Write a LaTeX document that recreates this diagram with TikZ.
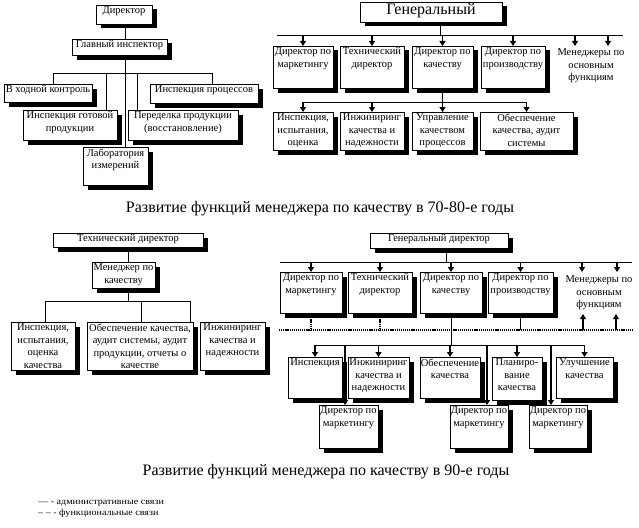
\documentclass[tikz,border=0pt]{standalone}
\usepackage{fontspec}
\setmainfont{Liberation Serif}
\newfontfamily\legfont[FakeStretch=1.12]{Liberation Serif}
\usetikzlibrary{arrows.meta,calc}
\newcommand\bx[7][]{%
  \fill[shadowfill] ({#3+4.5},{#4+4.5}) rectangle ({#5+4.5},{#6+4.5});
  \node[box, minimum width={(#5-#3)*1pt}, minimum height={(#6-#4)*1pt}] (#2) at (#3,#4) {};
  \node[txt,#1] (#2t) at (#2.north) {#7};}
\begin{document}
\begin{tikzpicture}[x=1pt,y=-1pt,
  shadowfill/.style={fill=black},
  box/.style={draw, fill=white, line width=0.8pt, anchor=north west, inner sep=0pt, outer sep=0pt},
  txt/.style={anchor=north, align=center, inner sep=1.5pt, font=\fontsize{10.5}{12.5}\selectfont},
  ln/.style={line width=0.8pt},
  arr/.style={line width=1.4pt, -{Triangle[width=6pt,length=5pt]}},
  func/.style={line width=1.6pt, dash pattern=on 1.2pt off 0.9pt},
  captext/.style={font=\fontsize{16}{18}\selectfont, inner sep=0pt},
  leg/.style={font=\legfont\fontsize{9}{10}\selectfont, inner sep=0pt, anchor=west},
]
\useasboundingbox (0,0) rectangle (639,527);
\fill[white] (0,0) rectangle (639,527);

% ---------------- top left ----------------
\bx{dir}{96}{5}{152}{24}{Директор}
\bx{gi}{72}{39}{167}{55}{Главный инспектор}
\bx{vk}{4}{84}{92}{102}{В ходной контроль}
\bx{ip}{150}{84}{258}{103}{Инспекция процессов}
\bx{igp}{23}{110}{117}{140}{Инспекция готовой\\продукции}
\bx{pp}{128}{110}{238}{140}{Переделка продукции\\(восстановление)}
\bx{li}{83}{147}{148}{185}{Лаборатория\\измерений}
\coordinate (b1c) at (125,73);
\coordinate (b1L) at (53,73);
\coordinate (b1R) at (212,73);
\coordinate (b1a) at (106,73);
\coordinate (b1b) at (137,73);
\draw[ln] (b1c |- dir.south) -- (b1c |- gi.north);
\draw[ln] (b1c |- gi.south) -- (b1c |- li.north);
\draw[ln] (b1L) -- (b1R);
\draw[ln] (b1L) -- (b1L |- vk.north);
\draw[ln] (b1R) -- (b1R |- ip.north);
\draw[ln] (b1a) -- (b1a |- igp.north);
\draw[ln] (b1b) -- (b1b |- pp.north);

% ---------------- top right ----------------
\bx[font=\fontsize{16}{18}\selectfont, inner sep=1pt]{gen}{360}{2}{502}{22}{Генеральный}
\bx{dm1}{273}{46}{333}{88}{Директор по\\маркетингу}
\bx{td1}{340}{46}{404}{88}{Технический\\директор}
\bx{dk1}{412}{46}{473}{88}{Директор по\\качеству}
\bx{dp1}{481}{46}{545}{88}{Директор по\\производству}
\node[txt] (mg1) at (591,47) {Менеджеры по\\основным\\функциям};
\coordinate (B1) at (277,35);
\coordinate (B1e) at (623,35);
\coordinate (g1) at (440,35);
\draw[ln] (B1) -- (B1e);
\draw[ln] (g1 |- gen.south) -- (g1);
\foreach \n in {dm1,td1,dk1,dp1} \draw[arr] (B1 -| \n.north) -- (\n.north);
\coordinate (m1a) at (575,46);
\coordinate (m1b) at (608,46);
\draw[arr] (B1 -| m1a) -- (m1a);
\draw[arr] (B1 -| m1b) -- (m1b);

\bx{iio}{273}{112}{333}{150}{Инспекция,\\испытания,\\оценка}
\bx{ikn}{340}{112}{404}{150}{Инжиниринг\\качества и\\надежности}
\bx{ukp}{412}{112}{473}{150}{Управление\\качеством\\процессов}
\bx{oka}{480}{112}{573}{150}{Обеспечение\\качества, аудит\\системы}
\coordinate (B2) at (302,102);
\draw[ln] (dk1.south) -- (dk1.south |- B2);
\draw[ln] (B2 -| iio.north) -- (B2 -| oka.north);
\foreach \n in {iio,ikn,ukp,oka} \draw[arr] (B2 -| \n.north) -- (\n.north);

\node[captext] (cap1) at (320,209) {Развитие функций менеджера по качеству в 70-80-е годы};

% ---------------- bottom left ----------------
\bx{td2}{53}{233}{203}{247}{Технический директор}
\bx{mk}{92}{262}{155}{288}{Менеджер по\\качеству}
\bx{ii2}{11}{322}{75}{370}{Инспекция,\\испытания,\\оценка\\качества}
\bx{ob2}{87}{322}{193}{370}{Обеспечение качества,\\аудит системы, аудит\\продукции, отчеты о\\качестве}
\bx{in2}{200}{322}{265}{370}{Инжиниринг\\качества и\\надежности}
\coordinate (b3c) at (128,301);
\coordinate (b3L) at (45,301);
\coordinate (b3R) at (190,301);
\coordinate (b3m) at (141,301);
\draw[ln] (b3c |- td2.south) -- (b3c |- mk.north);
\draw[ln] (b3c |- mk.south) -- (b3c);
\draw[ln] (b3L) -- (b3R);
\draw[ln] (b3L) -- (b3L |- ii2.north);
\draw[ln] (b3m) -- (b3m |- ob2.north);
\draw[ln] (b3R) -- (b3R |- ob2.north);

% ---------------- bottom right ----------------
\bx{gd}{370}{233}{508}{248}{Генеральный директор}
\bx{dm2}{280}{272}{342}{313}{Директор по\\маркетингу}
\bx{td3}{348}{272}{412}{313}{Технический\\директор}
\bx{dk2}{420}{272}{482}{313}{Директор по\\качеству}
\bx{dp2}{488}{272}{553}{313}{Директор по\\производству}
\node[txt] (mg2) at (599,274) {Менеджеры по\\основным\\функциям};
\coordinate (B4) at (280,262);
\coordinate (B4e) at (632,262);
\coordinate (g2) at (446,262);
\draw[ln] (B4) -- (B4e);
\draw[ln] (g2 |- gd.south) -- (g2);
\foreach \n in {dm2,td3,dk2,dp2} \draw[arr] (B4 -| \n.north) -- (\n.north);
\coordinate (m2a) at (582,272);
\coordinate (m2b) at (617,272);
\draw[arr] (B4 -| m2a) -- (m2a);
\draw[arr] (B4 -| m2b) -- (m2b);

% functional bus
\coordinate (F1) at (279,330);
\coordinate (F2) at (632,330);
\draw[func] (F1) -- (F2);
\draw[func] (dm2.south) -- (dm2.south |- F1);
\draw[func] (td3.south) -- (td3.south |- F1);
\draw[line width=1.4pt] (dp2.south) -- (dp2.south |- F1);
\coordinate (u2a) at (583,314);
\coordinate (u2b) at (616,314);
\draw[arr] (F1 -| u2a) -- (u2a);
\draw[arr] (F1 -| u2b) -- (u2b);

% lower level
\bx{ins}{288}{357}{342}{398}{Инспекция}
\bx{in3}{348}{357}{409}{398}{Инжиниринг\\качества и\\надежности}
\bx{ob3}{420}{357}{480}{398}{Обеспечение\\качества}
\bx{pk}{492}{357}{542}{400}{Планиро-\\вание\\качества}
\bx{uk}{556}{357}{613}{398}{Улучшение\\качества}
\coordinate (B5) at (313,345);
\draw[ln] (dk2.south) -- (dk2.south |- B5);
\draw[ln] (B5 -| ins.north) -- (B5 -| uk.north);
\foreach \n in {ins,in3,ob3,pk,uk} \draw[arr] (B5 -| \n.north) -- (\n.north);

\bx{dA}{319}{405}{378}{448}{Директор по\\маркетингу}
\bx{dB}{450}{405}{508}{448}{Директор по\\маркетингу}
\bx{dC}{529}{405}{587}{448}{Директор по\\маркетингу}
\coordinate (pA) at (345,405);
\coordinate (pB) at (487,405);
\coordinate (pC) at (551,405);
\draw[arr] (B5 -| pA) -- (pA);
\draw[arr] (B5 -| pB) -- (pB);
\draw[arr] (B5 -| pC) -- (pC);

\node[captext] (cap2) at (326,472) {Развитие функций менеджера по качеству в 90-е годы};

\node[leg] (l1) at (38,503) {— - административные связи};
\node[leg] (l2) at (38,513) {– – - функциональные связи};
\end{tikzpicture}
\end{document}
